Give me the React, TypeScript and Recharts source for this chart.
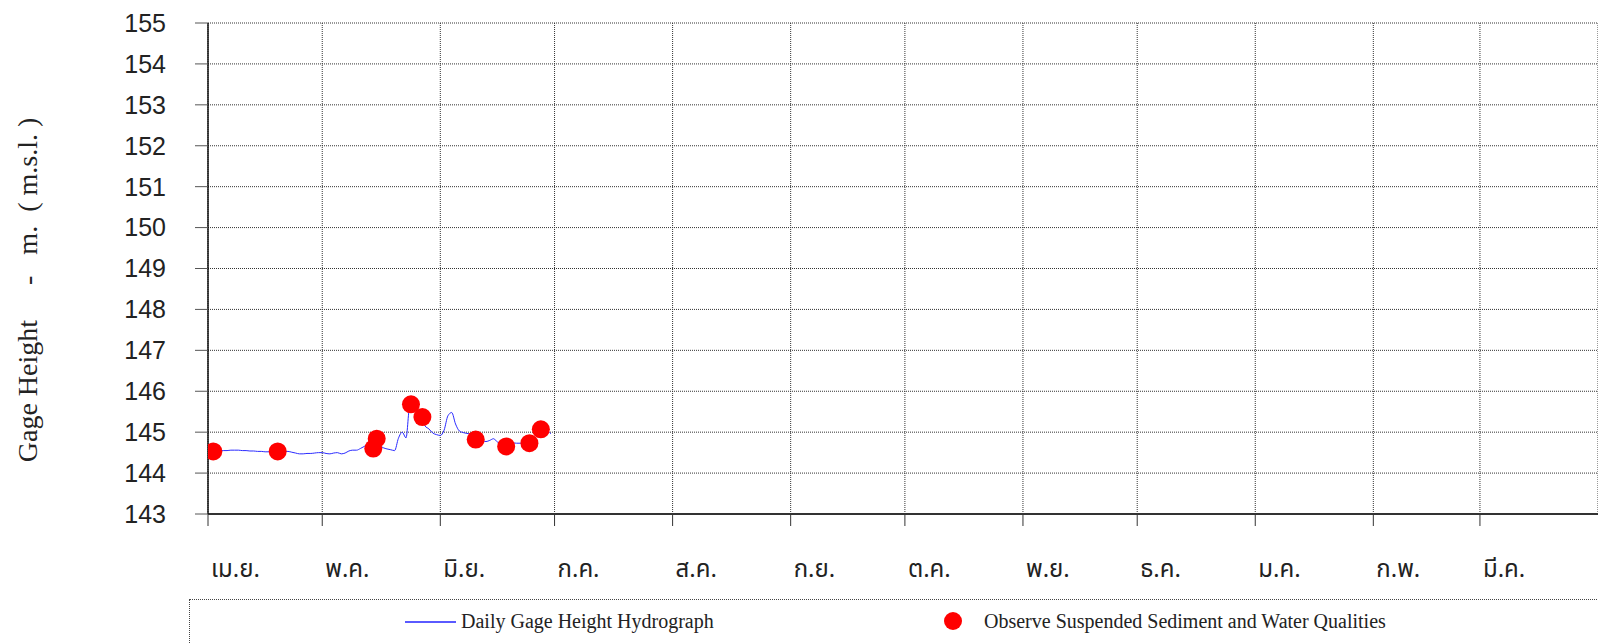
import { CartesianGrid, ComposedChart, Line, Scatter, XAxis, YAxis } from "recharts"

// day 0 = 1 เม.ย.
const monthStarts = [0, 30, 61, 91, 122, 153, 183, 214, 244, 275, 306, 334]
const monthLabels = ["เม.ย.", "พ.ค.", "มิ.ย.", "ก.ค.", "ส.ค.", "ก.ย.", "ต.ค.", "พ.ย.", "ธ.ค.", "ม.ค.", "ก.พ.", "มี.ค."]
const yTicks = [143, 144, 145, 146, 147, 148, 149, 150, 151, 152, 153, 154, 155]

// daily gage height, one value per day from day 0
const gageHeight = [
  144.53, 144.53, 144.54, 144.54, 144.55, 144.55, 144.56, 144.56, 144.56, 144.55,
  144.55, 144.54, 144.54, 144.53, 144.53, 144.52, 144.52, 144.52, 144.53, 144.53,
  144.53, 144.53, 144.51, 144.49, 144.47, 144.47, 144.48, 144.48, 144.49, 144.50,
  144.50, 144.48, 144.47, 144.49, 144.50, 144.47, 144.49, 144.54, 144.56, 144.56,
  144.60, 144.65, 144.71, 144.74, 144.72, 144.68, 144.62, 144.59, 144.57, 144.55,
  144.85, 145.00, 144.86, 145.65, 145.58, 145.50, 145.35, 145.15, 145.08, 144.98,
  144.94, 144.92, 145.05, 145.40, 145.48, 145.20, 145.03, 144.99, 144.97, 144.95,
  144.92, 144.86, 144.80, 144.77, 144.80, 144.84, 144.76, 144.74, 144.74, 144.74,
  144.74, 144.73, 144.73, 144.73, 144.74, 144.79, 144.87, 144.95, 145.02, 145.04,
  144.96,
]

const obsDays = [1.4, 18.3, 43.4, 44.3, 53.3, 56.3, 70.3, 78.3, 84.4, 87.4]
const obsHeights = [144.53, 144.53, 144.6, 144.84, 145.68, 145.37, 144.82, 144.65, 144.73, 145.07]

const lineData = gageHeight.map((h, i) => ({ day: i, h }))
const obsData = obsDays.map((d, i) => ({ day: d, h: obsHeights[i] }))

const sans = "'Liberation Sans', Arial, sans-serif"
const serif = "'Liberation Serif', 'Times New Roman', serif"
const thai = "'Noto Sans Thai', 'Loma', 'Garuda', 'Tlwg Typo', 'Liberation Sans', sans-serif"

const MonthTick = (props: any) => {
  const { x, y, payload } = props
  const idx = monthStarts.indexOf(payload.value)
  return (
    <text x={x + 3} y={y + 51} fontSize={24} fontFamily={thai} fill="#222" textAnchor="start">
      {monthLabels[idx]}
    </text>
  )
}

const YTitle = () => (
  <text
    x={27}
    y={290}
    transform="rotate(-90 27 290)"
    textAnchor="middle"
    dominantBaseline="central"
    fontSize={28}
    fontFamily={serif}
    fill="#222"
    style={{ whiteSpace: "pre" }}
  >
    {"Gage Height     -   m.  ( m.s.l. )"}
  </text>
)

export default function App() {
  return (
    <div style={{ position: "absolute", left: 0, top: 0, width: 1598, height: 644, background: "#fff", overflow: "hidden" }}>
      <ComposedChart width={1598} height={644} margin={{ top: 23, right: 0, left: 0, bottom: 0 }}>
        <CartesianGrid stroke="#333" strokeDasharray="1 1" />
        <XAxis
          type="number"
          dataKey="day"
          domain={[0, 365]}
          ticks={monthStarts}
          height={130}
          tickSize={12}
          tickMargin={0}
          tick={<MonthTick />}
          axisLine={{ stroke: "#333", strokeWidth: 2 }}
          tickLine={{ stroke: "#333" }}
          allowDataOverflow
        />
        <YAxis
          type="number"
          dataKey="h"
          domain={[143, 155]}
          ticks={yTicks}
          width={208}
          tickSize={13}
          tickMargin={29}
          tick={{ fontSize: 25, fontFamily: sans, fill: "#222" }}
          axisLine={{ stroke: "#111", strokeWidth: 1.5 }}
          tickLine={{ stroke: "#555" }}
          label={<YTitle />}
        />
        <Line
          data={lineData}
          dataKey="h"
          type="monotone"
          stroke="#2b2bff"
          strokeWidth={1}
          dot={false}
          isAnimationActive={false}
        />
        <Scatter
          data={obsData}
          dataKey="h"
          fill="#ff0000"
          isAnimationActive={false}
          shape={(p: any) => <circle cx={p.cx} cy={p.cy} r={9} fill="#ff0000" />}
        />
      </ComposedChart>
      <div
        style={{
          position: "absolute",
          left: 189,
          top: 599,
          width: 1440,
          height: 80,
          border: "1px dotted #444",
          boxSizing: "border-box",
        }}
      />
      <div style={{ position: "absolute", left: 405, top: 621, width: 51, height: 1.5, background: "#5a5aff" }} />
      <div style={{ position: "absolute", left: 461, top: 609, fontFamily: serif, fontSize: 20, color: "#222", lineHeight: "24px", whiteSpace: "nowrap" }}>
        Daily Gage Height Hydrograph
      </div>
      <div style={{ position: "absolute", left: 944, top: 612, width: 18, height: 18, borderRadius: 9, background: "#ff0000" }} />
      <div style={{ position: "absolute", left: 984, top: 609, fontFamily: serif, fontSize: 20, color: "#222", lineHeight: "24px", whiteSpace: "nowrap" }}>
        Observe Suspended Sediment and Water Qualities
      </div>
    </div>
  )
}
